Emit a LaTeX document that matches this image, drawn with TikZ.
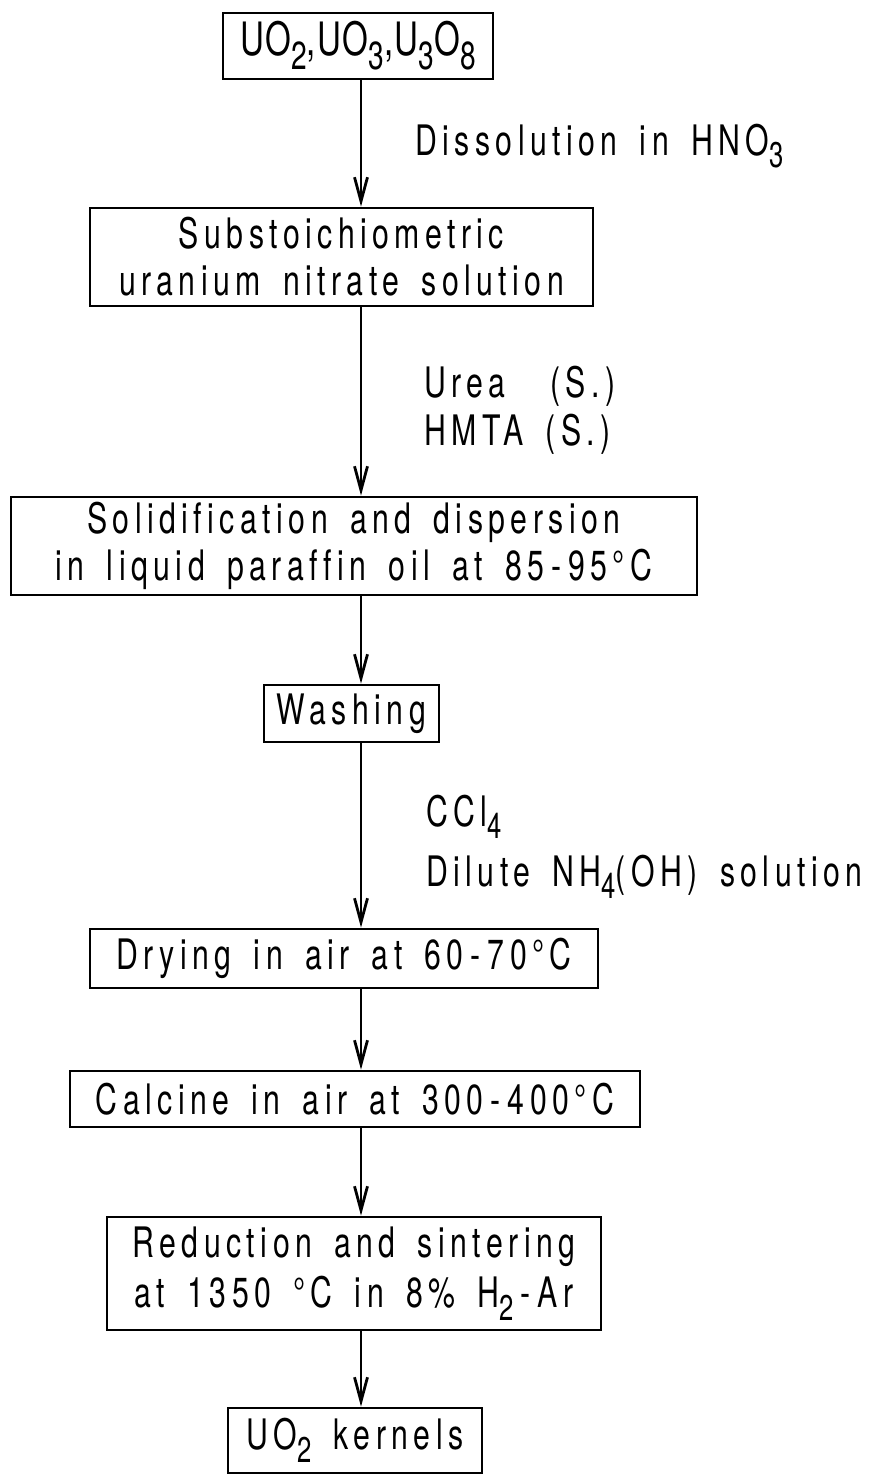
\documentclass[tikz,border=0pt]{standalone}
\usepackage{graphicx}
\usepackage{fontspec}
\setmainfont{TeX Gyre Heros}[FakeStretch=0.72, LetterSpace=13, WordSpace=1.6, Ligatures=CommonOff]
\usetikzlibrary{arrows.meta}
\newcommand\subs[1]{\raisebox{-0.3em}{\scalebox{0.85}{#1}}}
\newcommand\bxfont{\fontsize{42}{47}\selectfont}
\begin{document}
\begin{tikzpicture}[x=1pt,y=-1pt,
  box/.style={draw, line width=2.8pt, inner sep=0pt, align=center, font=\bxfont},
  arr/.style={line width=2.8pt, -{Straight Barb[length=24pt,width=13pt,line width=2.8pt]}},
  lab/.style={anchor=base west, inner sep=0pt, font=\bxfont}]
\useasboundingbox (0,0) rectangle (893,1475);
\fill[white] (0,0) rectangle (893,1475);
\coordinate (ax) at (361,0);
\node[box, minimum width=270pt, minimum height=66pt] (b1) at (358,46)
  {\fontsize{46}{47}\selectfont\addfontfeature{LetterSpace=3}UO\subs{2},UO\subs{3},U\subs{3}O\subs{8}};
\node[box, minimum width=503pt, minimum height=98pt] (b2) at (341.5,257)
  {Substoichiometric\\uranium nitrate solution};
\node[box, minimum width=686pt, minimum height=98pt] (b3) at (354,546)
  {Solidification and dispersion\\in liquid paraffin oil at 85\,-\,95°C};
\node[box, minimum width=175pt, minimum height=57pt] (b4) at (351.5,713.5) {Washing};
\node[box, minimum width=508pt, minimum height=59pt] (b5) at (344,958.5) {Drying in air at 60\,-\,70°C};
\node[box, minimum width=570pt, minimum height=56pt] (b6) at (355,1099) {Calcine in air at 300\,-\,400°C};
\node[box, minimum width=494pt, minimum height=113pt, font=\fontsize{42}{50}\selectfont] (b7) at (354,1273.5)
  {Reduction and sintering\\at 1350 °C in 8\% H\subs{2}\,-\,Ar};
\node[box, minimum width=254pt, minimum height=65pt] (b8) at (355,1440.5) {UO\subs{2} kernels};
\node[lab] (l1) at (415,155) {Dissolution in HNO\subs{3}};
\node[lab] (l2) at (424,397) {Urea\ \ (S.)};
\node[lab] (l3) at (424,445) {HMTA (S.)};
\node[lab] (l4) at (426,826) {CCl\subs{4}};
\node[lab] (l5) at (426,886) {Dilute NH\subs{4}(OH) solution};
\draw[arr] (b1.south -| ax) -- (b2.north -| ax);
\draw[arr] (b2.south -| ax) -- (b3.north -| ax);
\draw[arr] (b3.south -| ax) -- (b4.north -| ax);
\draw[arr] (b4.south -| ax) -- (b5.north -| ax);
\draw[arr] (b5.south -| ax) -- (b6.north -| ax);
\draw[arr] (b6.south -| ax) -- (b7.north -| ax);
\draw[arr] (b7.south -| ax) -- (b8.north -| ax);
\end{tikzpicture}
\end{document}
